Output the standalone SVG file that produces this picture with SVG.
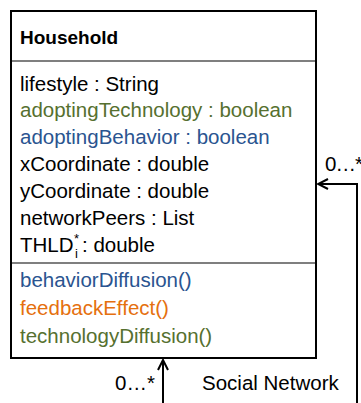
<svg xmlns="http://www.w3.org/2000/svg" width="361" height="403" viewBox="0 0 361 403">
<defs>
<style>
text{font-family:"Liberation Sans",Arial,sans-serif;font-size:20.5px;fill:#000}
.t{font-weight:bold;font-size:19px}
.g{fill:#56702f}
.b{fill:#2a5490}
.o{fill:#e5700e}
.s{font-size:13px}
.sep{stroke:#7f7f7f;stroke-width:2}
.ln{stroke:#000;stroke-width:2;fill:none}
</style>
<marker id="ah" viewBox="0 0 12 12" refX="11" refY="6" markerWidth="12" markerHeight="12" markerUnits="userSpaceOnUse" orient="auto">
<path d="M1,1 L11,6 L1,11" fill="none" stroke="#000" stroke-width="2"/>
</marker>
</defs>
<g id="household">
<rect x="11" y="11" width="305" height="347" fill="#fff" stroke="#000" stroke-width="2"/>
<line class="sep" x1="12" y1="61" x2="315" y2="61"/>
<line class="sep" x1="12" y1="263" x2="315" y2="263"/>
<text class="t" x="20" y="44">Household</text>
<text x="20" y="91">lifestyle : String</text>
<text class="g" x="20" y="117">adoptingTechnology : boolean</text>
<text class="b" x="20" y="144">adoptingBehavior : boolean</text>
<text x="20" y="171">xCoordinate : double</text>
<text x="20" y="198">yCoordinate : double</text>
<text x="20" y="225">networkPeers : List</text>
<text x="20" y="252">THLD</text>
<text class="s" x="74" y="243">*</text>
<text class="s" x="75" y="258">i</text>
<text x="82" y="252"> : double</text>
<text class="b" x="20" y="287">behaviorDiffusion()</text>
<text class="o" x="20" y="315">feedbackEffect()</text>
<text class="g" x="20" y="343">technologyDiffusion()</text>
</g>
<g id="connectors">
<path class="ln" d="M357,403 V184 H318" marker-end="url(#ah)"/>
<path class="ln" d="M163,403 V360" marker-end="url(#ah)"/>
</g>
<g id="labels">
<text x="325" y="171" letter-spacing="-1">0…*</text>
<text x="115" y="390">0…*</text>
<text x="202" y="390">Social Network</text>
</g>
</svg>
